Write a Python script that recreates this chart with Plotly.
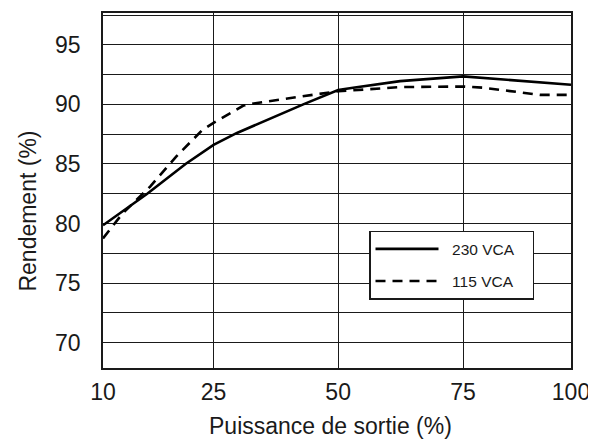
import numpy as np
import plotly.graph_objects as go

# --- data ---
tick_pct = [10, 25, 50, 75, 100]            # x-axis tick labels (Puissance de sortie %)
tick_pos = [0.0, 110.6, 235.3, 360.3, 468.3]  # relative spacing of those ticks on the drawn axis

x_230 = [10, 16.0, 21.2, 25, 29.7, 35.7, 43.0, 50, 53, 62.4, 75, 100]
y_230 = [79.85, 82.5, 85.0, 86.6, 87.6, 88.7, 90.0, 91.2, 91.4, 91.95, 92.35, 91.65]

x_115 = [10, 12.6, 16.4, 19.9, 23.4, 25, 31.0, 33.4, 42.4, 50, 62.4, 75, 79.6, 88.2, 92.8, 100]
y_115 = [78.75, 80.8, 83.1, 85.6, 87.8, 88.45, 89.9, 90.1, 90.65, 91.1, 91.45, 91.5, 91.4, 91.0, 90.8, 90.8]

y_ticks = [70, 75, 80, 85, 90, 95]


def xmap(p):
    return np.interp(p, tick_pct, tick_pos)


FONT = "Liberation Sans, Arial, Helvetica, sans-serif"
INK = "#1a1a1a"
LPAD = "\u00a0" * 2
RPAD = "\u00a0" * 3

fig = go.Figure()
fig.add_trace(go.Scatter(x=xmap(x_230), y=y_230, mode="lines", name=LPAD + "230 VCA" + RPAD,
                         legendgroup="a",
                         line=dict(color="black", width=2.6)))
fig.add_trace(go.Scatter(x=xmap(x_115), y=y_115, mode="lines", name=LPAD + "115 VCA" + RPAD,
                         legendgroup="b",
                         line=dict(color="black", width=2.6, dash="10px,7px")))

# page body has an 8px default margin; figure sized so the plot lands where the reference has it
fig.update_layout(
    width=588, height=431,
    margin=dict(l=95, r=25, t=3, b=71),
    paper_bgcolor="white", plot_bgcolor="white",
    font=dict(family=FONT, color=INK, size=23),
    showlegend=True,
    legend=dict(x=(369 - 103) / 468, y=(368 - 230) / 357, xanchor="left", yanchor="top",
                bgcolor="white", bordercolor=INK, borderwidth=1.5,
                font=dict(size=15.5, color=INK), itemwidth=63,
                traceorder="grouped", tracegroupgap=9),
)

fig.update_xaxes(
    range=[tick_pos[0], tick_pos[-1]],
    tickmode="array", tickvals=list(xmap(tick_pct)), ticktext=[str(t) for t in tick_pct],
    showgrid=True, gridcolor=INK, gridwidth=1.3,
    showline=True, linecolor=INK, linewidth=1.6, mirror=True,
    ticks="", zeroline=False, ticklabelstandoff=3,
    tickfont=dict(size=23),
)
fig.update_yaxes(
    range=[67.87, 97.67],
    tickmode="array", tickvals=y_ticks,
    showgrid=True, gridcolor=INK, gridwidth=1.3,
    minor=dict(dtick=2.5, tick0=70, showgrid=True, gridcolor=INK, gridwidth=1.3),
    showline=True, linecolor=INK, linewidth=1.6, mirror=True,
    ticks="", zeroline=False, ticklabelstandoff=16,
    tickfont=dict(size=23),
)

fig.add_annotation(text="Puissance de sortie (%)", xref="paper", yref="paper",
                   x=0.486, y=-0.1625, xanchor="center", yanchor="middle",
                   showarrow=False, font=dict(size=23, color=INK))
fig.add_annotation(text="Rendement (%)", xref="paper", yref="paper",
                   x=-0.160, y=0.441, xanchor="center", yanchor="middle",
                   textangle=-90, showarrow=False, font=dict(size=23, color=INK))

fig.write_html("out.html")
